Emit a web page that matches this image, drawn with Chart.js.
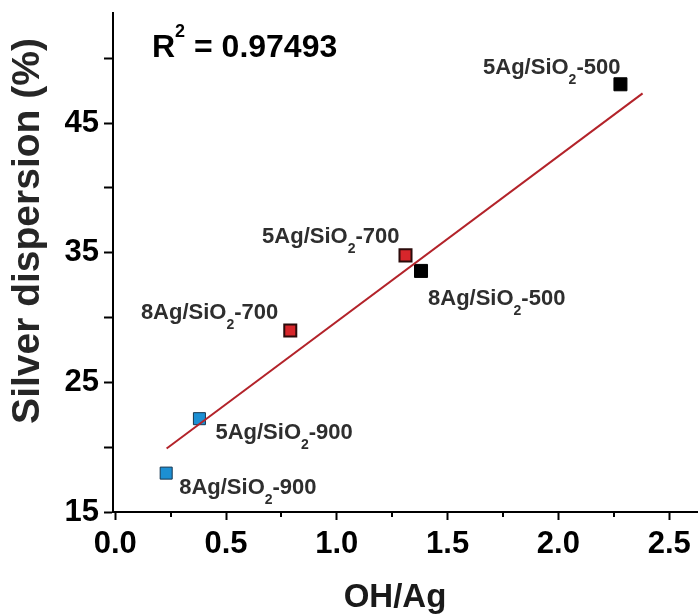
<!DOCTYPE html>
<html lang="en">
<head>
<meta charset="UTF-8">
<title>Silver dispersion vs OH/Ag</title>
<script src="https://cdn.jsdelivr.net/npm/chart.js"></script>
<style>
  html, body { margin: 0; padding: 0; background: #fff; }
</style>
</head>
<body>
<canvas id="dispChart" width="698" height="615"></canvas>
<script>
// values
const samples = ['5Ag/SiO2-500', '8Ag/SiO2-500', '5Ag/SiO2-700', '8Ag/SiO2-700', '5Ag/SiO2-900', '8Ag/SiO2-900'];
const ohAg = [2.28, 1.38, 1.31, 0.79, 0.38, 0.23];
const dispersion = [48.0, 33.6, 34.8, 29.0, 22.2, 18.0];
// ends of the fitted line
const fitX = [0.232, 2.38];
const fitY = [19.9, 47.3];
const rSquared = '0.97493';

const FONT = '"Liberation Sans", Arial, sans-serif';

// marker look per calcination temperature
const markerFill = { '500': '#000000', '700': '#d7262b', '900': '#1c8fd3' };
const markerEdge = { '500': '#000000', '700': '#2b0b0b', '900': '#17364f' };
const markerEdgeW = { '500': 1, '700': 2, '900': 1 };
const markerR = { '500': 9.2, '700': 8.5, '900': 8.5 };
// label anchor relative to marker centre: [dx, dy, align]
const labelPos = [
    [0, -10, 'right'],
    [7, 34, 'left'],
    [-6, -12, 'right'],
    [-12, -12, 'right'],
    [16, 20, 'left'],
    [13, 21, 'left']
];

const temp = (s) => s.split('-')[1];
const isHalf = (v) => Math.abs(v * 2 - Math.round(v * 2)) < 1e-6;

function drawSampleLabel(ctx, name, x, y, align) {
    const i = name.indexOf('O2');
    const head = name.slice(0, i + 1), tail = name.slice(i + 2);
    const big = 'bold 22px ' + FONT, small = 'bold 14px ' + FONT;
    ctx.font = big;
    const wHead = ctx.measureText(head).width, wTail = ctx.measureText(tail).width;
    ctx.font = small;
    const wSub = ctx.measureText('2').width;
    const left = align === 'right' ? x - (wHead + wSub + wTail) : x;
    ctx.font = big;
    ctx.fillText(head, left, y);
    ctx.font = small;
    ctx.fillText('2', left + wHead, y + 10);
    ctx.font = big;
    ctx.fillText(tail, left + wHead + wSub, y);
}

const annotate = {
    id: 'annotate',
    afterDraw(chart) {
        const { ctx, chartArea, scales: { x, y } } = chart;
        ctx.save();

        // short minor ticks on the x axis
        ctx.strokeStyle = '#000';
        ctx.lineWidth = 2;
        x.ticks.forEach(t => {
            if (isHalf(t.value)) return;
            const px = Math.round(x.getPixelForValue(t.value));
            ctx.beginPath();
            ctx.moveTo(px, x.top);
            ctx.lineTo(px, x.top + 5);
            ctx.stroke();
        });

        // sample labels
        ctx.fillStyle = '#2e2e2e';
        ctx.textAlign = 'left';
        ctx.textBaseline = 'alphabetic';
        samples.forEach((s, i) => {
            const px = x.getPixelForValue(ohAg[i]);
            const py = y.getPixelForValue(dispersion[i]);
            const [dx, dy, al] = labelPos[i];
            drawSampleLabel(ctx, s, px + dx, py + dy, al);
        });

        // R^2
        ctx.fillStyle = '#000';
        const rx = chartArea.left + 39, ry = chartArea.top + 44;
        ctx.font = 'bold 32px ' + FONT;
        ctx.fillText('R', rx, ry);
        const wR = ctx.measureText('R').width;
        ctx.font = 'bold 18px ' + FONT;
        ctx.fillText('2', rx + wR, ry - 20);
        const w2 = ctx.measureText('2').width;
        ctx.font = 'bold 32px ' + FONT;
        ctx.fillText(' = ' + rSquared, rx + wR + w2, ry);

        // axis titles
        ctx.fillStyle = '#1a1a1a';
        ctx.font = 'bold 33px ' + FONT;
        ctx.textAlign = 'center';
        ctx.fillText('OH/Ag', chartArea.left + 282, 607);

        ctx.fillStyle = '#262626';
        ctx.font = 'bold 39px ' + FONT;
        ctx.textBaseline = 'middle';
        ctx.translate(28, chartArea.top + 218);
        ctx.rotate(-Math.PI / 2);
        ctx.fillText('Silver dispersion (%)', 0, 0);

        ctx.restore();
    }
};

new Chart(document.getElementById('dispChart'), {
    type: 'scatter',
    data: {
        datasets: [
            {
                label: 'Linear fit',
                data: fitX.map((v, i) => ({ x: v, y: fitY[i] })),
                showLine: true,
                borderColor: '#b3232a',
                borderWidth: 2,
                pointRadius: 0,
                order: 0
            },
            {
                label: 'Samples',
                data: ohAg.map((v, i) => ({ x: v, y: dispersion[i] })),
                pointStyle: 'rect',
                pointRadius: samples.map(s => markerR[temp(s)]),
                pointHoverRadius: samples.map(s => markerR[temp(s)]),
                backgroundColor: samples.map(s => markerFill[temp(s)]),
                borderColor: samples.map(s => markerEdge[temp(s)]),
                borderWidth: samples.map(s => markerEdgeW[temp(s)]),
                order: 1
            }
        ]
    },
    options: {
        responsive: false,
        animation: false,
        layout: {
            autoPadding: false,
            padding: { top: 13, right: 0, bottom: 0, left: 0 }
        },
        plugins: {
            legend: { display: false },
            tooltip: { enabled: false }
        },
        scales: {
            x: {
                type: 'linear',
                min: -0.01,
                max: 2.63,
                border: { display: true, color: '#000', width: 2 },
                grid: {
                    drawOnChartArea: false,
                    tickLength: 8,
                    tickWidth: 2,
                    tickColor: (c) => isHalf(c.tick.value) ? '#000' : 'rgba(0,0,0,0)'
                },
                ticks: {
                    stepSize: 0.25,
                    autoSkip: false,
                    maxRotation: 0,
                    includeBounds: false,
                    padding: 6,
                    color: '#000',
                    font: { family: FONT, size: 31, weight: 'bold' },
                    callback: (v) => isHalf(v) ? v.toFixed(1) : ''
                },
                afterFit: (s) => {
                    s.height = 103;
                    s.paddingLeft = 0;
                    s.paddingRight = 0;
                }
            },
            y: {
                type: 'linear',
                min: 15,
                max: 53.5,
                border: { display: true, color: '#000', width: 2 },
                grid: {
                    drawOnChartArea: false,
                    tickLength: 9,
                    tickWidth: 2,
                    tickColor: '#000'
                },
                ticks: {
                    stepSize: 5,
                    includeBounds: false,
                    padding: 5,
                    color: '#000',
                    font: { family: FONT, size: 31, weight: 'bold' },
                    callback: (v) => (v - 15) % 10 === 0 ? String(v) : ''
                },
                afterFit: (s) => {
                    s.width = 113;
                    s.paddingTop = 0;
                    s.paddingBottom = 0;
                }
            }
        }
    },
    plugins: [annotate]
});
</script>
</body>
</html>
